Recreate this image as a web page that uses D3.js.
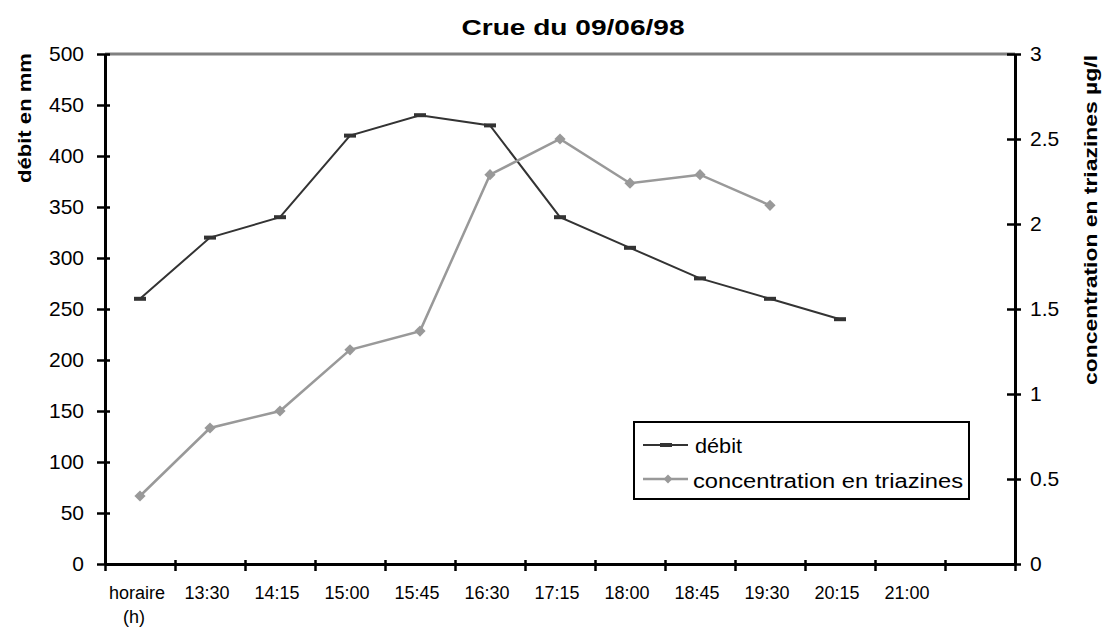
<!DOCTYPE html>
<html>
<head>
<meta charset="utf-8">
<script src="https://cdn.jsdelivr.net/npm/d3@7"></script>
<style>
  html, body { margin: 0; padding: 0; background: #fff; }
  svg { display: block; font-family: "Liberation Sans", Arial, sans-serif; }
</style>
</head>
<body>
<svg id="chart" width="1102" height="630"></svg>
<script>
// Time slots on the horizontal axis (last slot is empty)
const categories = ["horaire (h)", "13:30", "14:15", "15:00", "15:45", "16:30",
                    "17:15", "18:00", "18:45", "19:30", "20:15", "21:00", ""];
// Discharge (mm), left axis
const debit = [260, 320, 340, 420, 440, 430, 340, 310, 280, 260, 240];
// Triazine concentration (µg/l), right axis
const concentration = [0.4, 0.8, 0.9, 1.26, 1.37, 2.29, 2.5, 2.24, 2.29, 2.11];
// Axis ticks
const leftTicks = [0, 50, 100, 150, 200, 250, 300, 350, 400, 450, 500];
const rightTicks = [0, 0.5, 1, 1.5, 2, 2.5, 3];

const svg = d3.select("#chart");
const plot = { left: 105, right: 1015, top: 54, bottom: 564 };

const x = d3.scaleBand().domain(categories.map((c, i) => i)).range([plot.left, plot.right]).padding(0);
const xEdge = d3.scaleLinear().domain([0, categories.length]).range([plot.left, plot.right]);
const yL = d3.scaleLinear().domain([0, 500]).range([plot.bottom, plot.top]);
const yR = d3.scaleLinear().domain([0, 3]).range([plot.bottom, plot.top]);

const cx = i => x(i) + x.bandwidth() / 2;

// Title
svg.append("text")
  .attr("x", 573).attr("y", 35)
  .attr("text-anchor", "middle")
  .attr("font-weight", "bold").attr("font-size", 22)
  .attr("textLength", 223).attr("lengthAdjust", "spacingAndGlyphs")
  .text("Crue du 09/06/98");

// Top border of the plot area
svg.append("line")
  .attr("x1", plot.left).attr("x2", plot.right)
  .attr("y1", plot.top).attr("y2", plot.top)
  .attr("stroke", "#808080").attr("stroke-width", 3);

// Left axis
const gL = svg.append("g").attr("transform", `translate(${plot.left},0)`)
  .call(d3.axisLeft(yL).tickValues(leftTicks).tickSize(0).tickPadding(21));
gL.select(".domain").attr("stroke", "#000").attr("stroke-width", 3);
gL.selectAll(".tick line").attr("x1", -8).attr("x2", 5).attr("stroke", "#000").attr("stroke-width", 2.5);
gL.selectAll(".tick text").attr("font-size", 21).attr("fill", "#000")
  .attr("font-family", "Liberation Sans, Arial, sans-serif");

// Right axis
const gR = svg.append("g").attr("transform", `translate(${plot.right},0)`)
  .call(d3.axisRight(yR).tickValues(rightTicks).tickFormat(d => String(d)).tickSize(0).tickPadding(15));
gR.select(".domain").attr("stroke", "#000").attr("stroke-width", 3);
gR.selectAll(".tick line").attr("x1", -8).attr("x2", 6).attr("stroke", "#000").attr("stroke-width", 2.5);
gR.selectAll(".tick text").attr("font-size", 21).attr("fill", "#000")
  .attr("font-family", "Liberation Sans, Arial, sans-serif");

// Bottom axis: tick marks at slot boundaries
const gB = svg.append("g").attr("transform", `translate(0,${plot.bottom})`)
  .call(d3.axisBottom(xEdge).tickValues(d3.range(0, categories.length + 1)).tickSize(0).tickFormat(""));
gB.select(".domain").attr("stroke", "#000").attr("stroke-width", 3);
gB.selectAll(".tick line").attr("y1", -4).attr("y2", 7).attr("stroke", "#000").attr("stroke-width", 2.5);

// Bottom axis labels centred in each slot
const gLab = svg.append("g").attr("transform", `translate(0,${plot.bottom})`)
  .call(d3.axisBottom(x).tickSize(0).tickPadding(0).tickFormat(""));
gLab.select(".domain").remove();
gLab.selectAll(".tick").each(function(d) {
  const parts = categories[d].split(" ");
  const t = d3.select(this).append("text")
    .attr("fill", "#000").attr("font-size", 18)
    .attr("text-anchor", "middle")
    .attr("font-family", "Liberation Sans, Arial, sans-serif");
  parts.forEach((p, k) => {
    t.append("tspan").attr("x", k === 0 ? -3 : -6).attr("y", 35 + k * 24).text(p);
  });
});

// Axis titles
svg.append("text")
  .attr("transform", "translate(31,118) rotate(-90)")
  .attr("text-anchor", "middle")
  .attr("font-weight", "bold").attr("font-size", 18)
  .attr("textLength", 130).attr("lengthAdjust", "spacingAndGlyphs")
  .text("débit en mm");

svg.append("text")
  .attr("transform", "translate(1097,220) rotate(-90)")
  .attr("text-anchor", "middle")
  .attr("font-weight", "bold").attr("font-size", 18)
  .attr("textLength", 330).attr("lengthAdjust", "spacingAndGlyphs")
  .text("concentration en triazines µg/l");

// Series
const debitColor = "#333333";
const concColor = "#999999";

const lineL = d3.line().x((d, i) => cx(i)).y(d => yL(d));
const lineR = d3.line().x((d, i) => cx(i)).y(d => yR(d));

svg.append("path").datum(debit)
  .attr("d", lineL).attr("fill", "none")
  .attr("stroke", debitColor).attr("stroke-width", 2);

svg.selectAll(".debit-mark").data(debit).enter().append("rect")
  .attr("class", "debit-mark")
  .attr("x", (d, i) => cx(i) - 6).attr("y", d => yL(d) - 2)
  .attr("width", 12).attr("height", 4)
  .attr("fill", debitColor);

svg.append("path").datum(concentration)
  .attr("d", lineR).attr("fill", "none")
  .attr("stroke", concColor).attr("stroke-width", 2.5);

const diamond = d3.symbol().type(d3.symbolDiamond2).size(80);
svg.selectAll(".conc-mark").data(concentration).enter().append("path")
  .attr("class", "conc-mark")
  .attr("transform", (d, i) => `translate(${cx(i)},${yR(d)})`)
  .attr("d", diamond)
  .attr("fill", concColor);

// Legend
const lg = svg.append("g");
lg.append("rect")
  .attr("x", 634).attr("y", 422).attr("width", 335).attr("height", 77)
  .attr("fill", "#fff").attr("stroke", "#000").attr("stroke-width", 2);

lg.append("line").attr("x1", 643).attr("x2", 688).attr("y1", 445).attr("y2", 445)
  .attr("stroke", debitColor).attr("stroke-width", 2);
lg.append("rect").attr("x", 660).attr("y", 443).attr("width", 12).attr("height", 4)
  .attr("fill", debitColor);
lg.append("text").attr("x", 695).attr("y", 453)
  .attr("font-size", 20).attr("textLength", 47).attr("lengthAdjust", "spacingAndGlyphs")
  .text("débit");

lg.append("line").attr("x1", 643).attr("x2", 688).attr("y1", 479).attr("y2", 479)
  .attr("stroke", concColor).attr("stroke-width", 2.5);
lg.append("path").attr("transform", "translate(668,479)")
  .attr("d", d3.symbol().type(d3.symbolDiamond2).size(50)).attr("fill", concColor);
lg.append("text").attr("x", 693).attr("y", 488)
  .attr("font-size", 20).attr("textLength", 270).attr("lengthAdjust", "spacingAndGlyphs")
  .text("concentration en triazines");
</script>
</body>
</html>
